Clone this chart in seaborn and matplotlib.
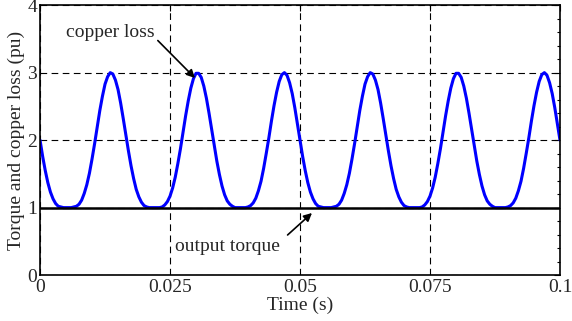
import numpy as np
import pandas as pd
import matplotlib
matplotlib.use("Agg")
import matplotlib.pyplot as plt
import seaborn as sns
from matplotlib.ticker import MultipleLocator

# copper loss (pu), every 0.5 ms from 0 to 0.1 s
copper_loss = [
    2.00, 1.76, 1.55, 1.37, 1.23, 1.13, 1.06, 1.02, 1.01, 1.00,
    1.00, 1.00, 1.00, 1.01, 1.02, 1.05, 1.11, 1.21, 1.34, 1.51,
    1.72, 1.95, 2.20, 2.44, 2.65, 2.83, 2.94, 3.00, 2.98, 2.89,
    2.75, 2.55, 2.32, 2.08, 1.84, 1.62, 1.43, 1.27, 1.16, 1.08,
    1.03, 1.01, 1.00, 1.00, 1.00, 1.00, 1.00, 1.01, 1.04, 1.09,
    1.17, 1.29, 1.45, 1.65, 1.87, 2.12, 2.36, 2.58, 2.77, 2.91,
    2.99, 2.99, 2.93, 2.80, 2.62, 2.40, 2.16, 1.92, 1.69, 1.49,
    1.32, 1.19, 1.10, 1.05, 1.02, 1.00, 1.00, 1.00, 1.00, 1.00,
    1.01, 1.03, 1.07, 1.14, 1.25, 1.39, 1.58, 1.80, 2.03, 2.28,
    2.51, 2.71, 2.87, 2.97, 3.00, 2.96, 2.85, 2.69, 2.48, 2.24,
    2.00, 1.76, 1.55, 1.37, 1.23, 1.13, 1.06, 1.02, 1.01, 1.00,
    1.00, 1.00, 1.00, 1.01, 1.02, 1.05, 1.11, 1.21, 1.34, 1.51,
    1.72, 1.95, 2.20, 2.44, 2.65, 2.83, 2.94, 3.00, 2.98, 2.89,
    2.75, 2.55, 2.32, 2.08, 1.84, 1.62, 1.43, 1.27, 1.16, 1.08,
    1.03, 1.01, 1.00, 1.00, 1.00, 1.00, 1.00, 1.01, 1.04, 1.09,
    1.17, 1.29, 1.45, 1.65, 1.87, 2.12, 2.36, 2.58, 2.77, 2.91,
    2.99, 2.99, 2.93, 2.80, 2.62, 2.40, 2.16, 1.92, 1.69, 1.49,
    1.32, 1.19, 1.10, 1.05, 1.02, 1.00, 1.00, 1.00, 1.00, 1.00,
    1.01, 1.03, 1.07, 1.14, 1.25, 1.39, 1.58, 1.80, 2.03, 2.28,
    2.51, 2.71, 2.87, 2.97, 3.00, 2.96, 2.85, 2.69, 2.48, 2.24,
    2.00,
]
time_s = np.linspace(0, 0.1, len(copper_loss))

torque_time = [0.0, 0.1]
torque = [1.0, 1.0]

x_ticks = [0, 0.025, 0.05, 0.075, 0.1]
x_tick_labels = ["0", "0.025", "0.05", "0.075", "0.1"]
y_ticks = [0, 1, 2, 3, 4]

sns.set_style("white")
plt.rcParams["font.family"] = ["Liberation Serif", "DejaVu Serif"]
plt.rcParams["font.size"] = 14

fig = plt.figure(figsize=(5.72, 3.21), dpi=100)
ax = fig.add_axes([0.07, 0.143, 0.909, 0.841])

df = pd.DataFrame({"t": time_s, "loss": copper_loss})
sns.lineplot(data=df, x="t", y="loss", color="#0000ff", lw=2.2, ax=ax)
sns.lineplot(x=torque_time, y=torque, color="black", lw=1.8, ax=ax)

ax.set_xlim(0, 0.1)
ax.set_ylim(0, 4)
ax.set_xticks(x_ticks)
ax.set_xticklabels(x_tick_labels)
ax.set_yticks(y_ticks)
ax.yaxis.set_minor_locator(MultipleLocator(0.2))
ax.tick_params(which="both", direction="in", top=True, right=True,
               color="black", labelsize=14)
ax.tick_params(which="major", length=4, width=0.8, pad=3)
ax.tick_params(which="minor", length=2.5, width=0.8)
ax.tick_params(axis="y", pad=2)

ax.grid(True, which="major", color="black", ls=(0, (6, 4)), lw=0.8)
ax.set_axisbelow(True)
for sp in ax.spines.values():
    sp.set_color("black")
    sp.set_linewidth(1.2)

ax.set_xlabel("Time (s)", labelpad=0)
ax.set_ylabel("Torque and copper loss (pu)", labelpad=2)

ax.annotate("copper loss", xy=(0.0298, 2.92), xytext=(0.0135, 3.6),
            ha="center", va="center", fontsize=14,
            arrowprops=dict(arrowstyle="-|>", color="black", lw=1.2,
                            mutation_scale=12, shrinkA=0, shrinkB=0,
                            relpos=(1.0, 0.2)))
ax.annotate("output torque", xy=(0.0523, 0.92), xytext=(0.0361, 0.42),
            ha="center", va="center", fontsize=14,
            arrowprops=dict(arrowstyle="-|>", color="black", lw=1.2,
                            mutation_scale=12, shrinkA=4, shrinkB=0,
                            relpos=(1.0, 0.8)))

fig.savefig("out.png", dpi=100)
